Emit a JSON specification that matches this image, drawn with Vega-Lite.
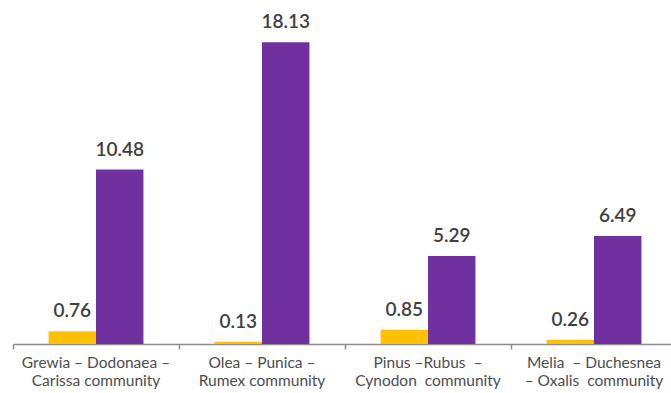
{
  "$schema": "https://vega.github.io/schema/vega-lite/v6.json",
  "width": 664,
  "height": 333,
  "autosize": {"type": "none"},
  "padding": {"left": 13, "top": 11, "right": 0, "bottom": 49},
  "background": "white",
  "config": {"view": {"stroke": null}},
  "data": {
    "values": [
      {"community": "Grewia – Dodonaea –|Carissa community", "series": "A", "value": 0.76},
      {"community": "Grewia – Dodonaea –|Carissa community", "series": "B", "value": 10.48},
      {"community": "Olea – Punica –|Rumex community", "series": "A", "value": 0.13},
      {"community": "Olea – Punica –|Rumex community", "series": "B", "value": 18.13},
      {"community": "Pinus –Rubus \u00a0–|Cynodon \u00a0community", "series": "A", "value": 0.85},
      {"community": "Pinus –Rubus \u00a0–|Cynodon \u00a0community", "series": "B", "value": 5.29},
      {"community": "Melia \u00a0– Duchesnea|– Oxalis \u00a0community", "series": "A", "value": 0.26},
      {"community": "Melia \u00a0– Duchesnea|– Oxalis \u00a0community", "series": "B", "value": 6.49}
    ]
  },
  "encoding": {
    "x": {
      "field": "community",
      "type": "nominal",
      "sort": null,
      "title": null,
      "scale": {"paddingInner": 0, "paddingOuter": 0},
      "axis": {
        "labelAngle": 0,
        "labelExpr": "split(datum.value, '|')",
        "labelFont": "Lato",
        "labelFontSize": 15.5,
        "labelColor": "#4d4d4d",
        "labelLineHeight": 18,
        "labelPadding": 6,
        "labelLimit": 0,
        "labelOverlap": false,
        "labelBound": false,
        "bandPosition": 0,
        "domainColor": "#8c8c8c",
        "domainWidth": 1.5,
        "tickColor": "#8c8c8c",
        "tickWidth": 1.5,
        "tickSize": 5
      }
    },
    "xOffset": {
      "field": "series",
      "type": "nominal",
      "scale": {"paddingInner": 0, "paddingOuter": 0.75}
    },
    "y": {
      "field": "value",
      "type": "quantitative",
      "scale": {"domain": [0, 20], "nice": false},
      "axis": null
    }
  },
  "layer": [
    {
      "mark": {"type": "bar"},
      "encoding": {
        "color": {
          "field": "series",
          "type": "nominal",
          "scale": {"domain": ["A", "B"], "range": ["#FFC000", "#7030A0"]},
          "legend": null
        }
      }
    },
    {
      "mark": {
        "type": "text",
        "baseline": "alphabetic",
        "dy": -14,
        "font": "Lato",
        "fontSize": 19,
        "fontWeight": 600,
        "color": "#404040"
      },
      "encoding": {
        "text": {"field": "value", "type": "quantitative", "format": ".2f"}
      }
    }
  ]
}
